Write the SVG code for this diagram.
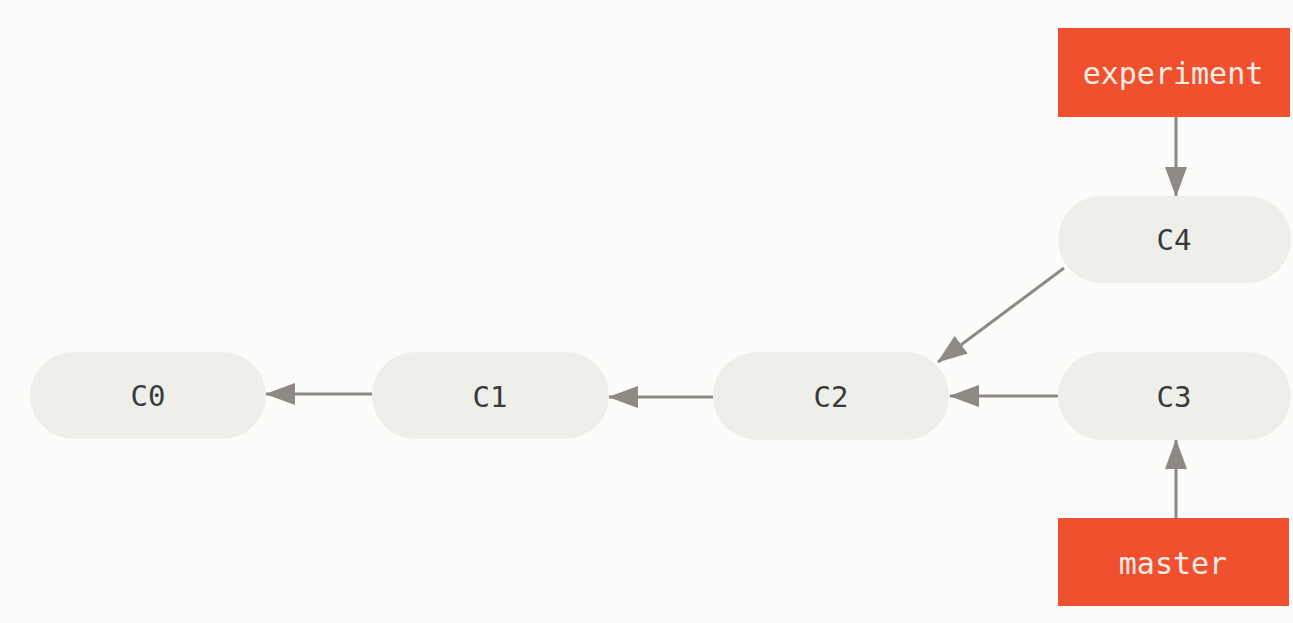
<svg xmlns="http://www.w3.org/2000/svg" width="1293" height="623" viewBox="0 0 1293 623">
<style>
.commit{fill:#EFEFEA;}
.branch{fill:#F1502F;}
.ct{font-family:"DejaVu Sans Mono",monospace;font-size:29px;fill:#3a3a3a;text-anchor:middle;dominant-baseline:central;}
.bt{font-family:"DejaVu Sans Mono",monospace;font-size:30px;fill:#F6EDE4;text-anchor:middle;dominant-baseline:central;}
.edge{stroke:#8E8983;stroke-width:3;fill:none;marker-end:url(#ah);}
</style>
<defs>
<marker id="ah" markerUnits="userSpaceOnUse" markerWidth="30" markerHeight="22" viewBox="0 0 30 22" refX="29" refY="11" orient="auto">
<path d="M0,0 L30,11 L0,22 Z" fill="#8E8983"/>
</marker>
</defs>
<rect width="1293" height="623" fill="#FCFCFA"/>
<g id="connectors">
<line class="edge" x1="372" y1="394" x2="266" y2="394"/>
<line class="edge" x1="713" y1="397" x2="609" y2="397"/>
<line class="edge" x1="1058" y1="396" x2="950" y2="396"/>
<line class="edge" x1="1064" y1="268" x2="938" y2="362"/>
<line class="edge" x1="1176" y1="117" x2="1176" y2="196"/>
<line class="edge" x1="1176" y1="518" x2="1176" y2="440"/>
</g>
<g id="C0"><rect class="commit" x="30" y="352" width="236" height="87" rx="43.5"/><text class="ct" x="148" y="396">C0</text></g>
<g id="C1"><rect class="commit" x="372" y="352" width="237" height="87" rx="43.5"/><text class="ct" x="490" y="397">C1</text></g>
<g id="C2"><rect class="commit" x="713" y="352" width="236" height="88" rx="44"/><text class="ct" x="831" y="397">C2</text></g>
<g id="C3"><rect class="commit" x="1058" y="352" width="233" height="88" rx="44"/><text class="ct" x="1174" y="397">C3</text></g>
<g id="C4"><rect class="commit" x="1058" y="196" width="233" height="87" rx="43.5"/><text class="ct" x="1174" y="240">C4</text></g>
<g id="experiment"><rect class="branch" x="1058" y="28" width="232" height="89"/><text class="bt" x="1173" y="73">experiment</text></g>
<g id="master"><rect class="branch" x="1058" y="518" width="231" height="88"/><text class="bt" x="1173" y="563">master</text></g>
</svg>
